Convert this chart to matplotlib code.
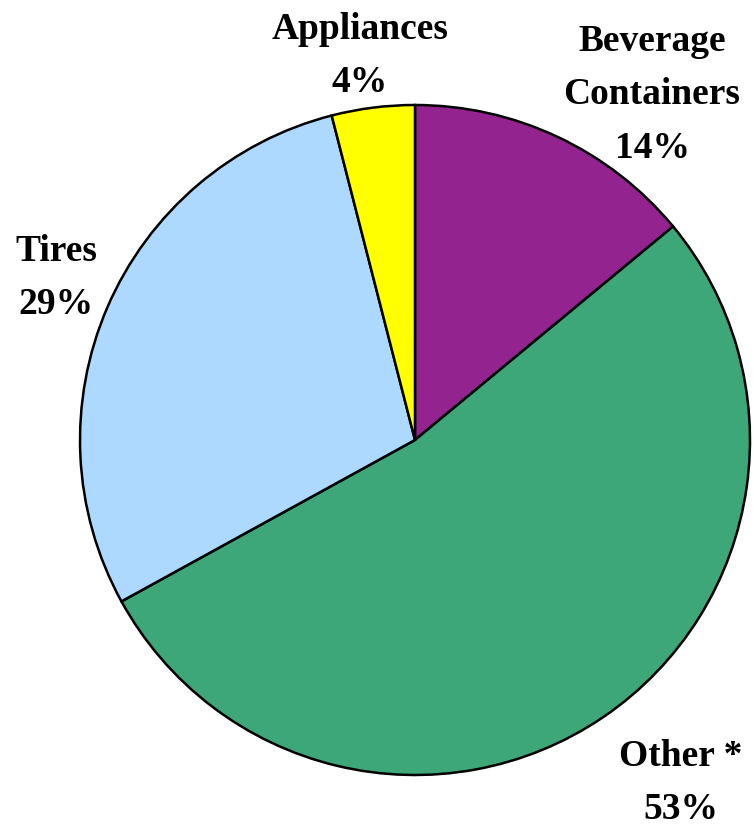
import matplotlib
matplotlib.use("Agg")
import matplotlib.pyplot as plt

categories = ["Beverage\nContainers", "Other *", "Tires", "Appliances"]
values = [14, 53, 29, 4]
colors = ["#92238F", "#3EA77A", "#ADD8FF", "#FFFF00"]
pct_labels = ["14%", "53%", "29%", "4%"]

W, H = 754, 827
fig = plt.figure(figsize=(W / 100, H / 100), dpi=100)
ax = fig.add_axes([0, 0, 1, 1])

cx, cy, r = 415, H - 440, 335
ax.pie(values, colors=colors, startangle=90, counterclock=False,
       center=(cx, cy), radius=r, frame=True,
       wedgeprops=dict(edgecolor="black", linewidth=1.8))
ax.set_xlim(0, W)
ax.set_ylim(0, H)
ax.set_aspect("equal")
ax.axis("off")

label_pos = [(652, H - 95), (681, H - 783), (56, H - 278), (360, H - 56)]
font = dict(family="Liberation Serif", fontweight="bold", fontsize=27)
for cat, pct, (x, y) in zip(categories, pct_labels, label_pos):
    ax.text(x, y, cat + "\n" + pct, ha="center", va="center",
            linespacing=1.7, **font)

fig.savefig("out.png", dpi=100)
